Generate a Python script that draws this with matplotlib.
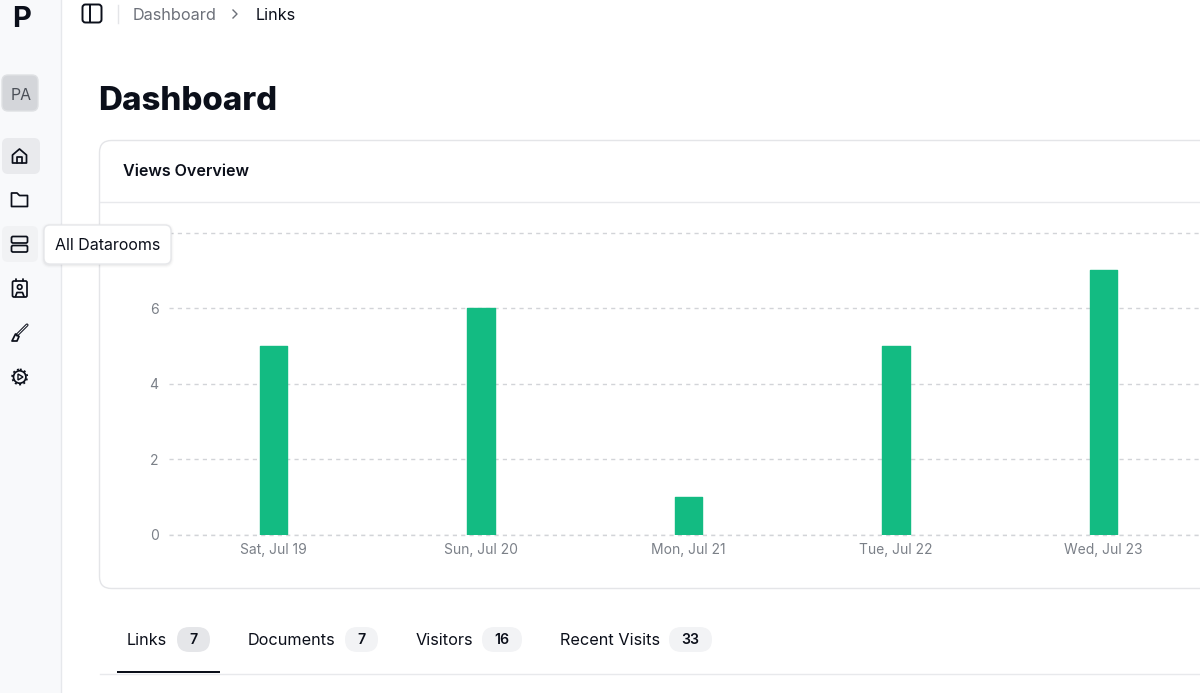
import matplotlib
matplotlib.use("Agg")
import matplotlib.pyplot as plt
from matplotlib.patches import FancyBboxPatch, Rectangle, Circle, Polygon
from matplotlib.lines import Line2D

plt.rcParams['font.family'] = ['Inter', 'DejaVu Sans']

days = ["Sat, Jul 19", "Sun, Jul 20", "Mon, Jul 21", "Tue, Jul 22", "Wed, Jul 23"]
views = [5, 6, 1, 5, 7]
yticks = [0, 2, 4, 6]
tab_names = ["Links", "Documents", "Visitors", "Recent Visits"]
tab_counts = ["7", "7", "16", "33"]

W, H = 1200, 693
INK = "#0b0f1a"
GREY = "#7b8088"
fig = plt.figure(figsize=(12, 6.93), dpi=100, facecolor="white")


def overlay(z):
    a = fig.add_axes([0, 0, 1, 1], zorder=z)
    a.set_xlim(0, W)
    a.set_ylim(H, 0)
    a.set_autoscale_on(False)
    a.axis("off")
    a.patch.set_alpha(0)
    return a


def rbox(a, x, y, w, h, r, fc="none", ec="none", lw=1.0, z=2):
    a.add_patch(FancyBboxPatch((x + r, y + r), w - 2 * r, h - 2 * r,
                               boxstyle=f"round,pad={r},rounding_size={r}",
                               fc=fc, ec=ec, lw=lw, zorder=z))


ui = overlay(0)
# sidebar
ui.add_patch(Rectangle((0, 0), 61, H, fc="#f8f9fb", ec="none"))
ui.add_line(Line2D([61, 61], [0, H], color="#e6e8ec", lw=1))
ui.text(21.5, 19.5, "P", fontsize=21, fontweight="bold", color=INK, ha="center", va="center")
rbox(ui, 2, 75, 36, 36, 6, fc="#d4d6da", ec="#dfe1e4")
ui.text(21, 95, "PA", fontsize=11.4, color="#4b5058", ha="center", va="center")
rbox(ui, 2, 138, 38, 36, 6, fc="#e9eaed")
rbox(ui, 2, 226, 36, 36, 6, fc="#f1f2f4")

ICON = dict(color=INK, lw=1.25, solid_capstyle="round", solid_joinstyle="round", zorder=4)
POLY = dict(closed=True, fc="none", ec=INK, lw=1.25, joinstyle="round", zorder=4)
# home
ui.add_patch(Polygon([(12.5, 155), (19.5, 149), (26.5, 155), (26.5, 163), (12.5, 163)], **POLY))
ui.plot([17, 17, 22, 22], [163, 157, 157, 163], **ICON)
# folder
ui.add_patch(Polygon([(11.5, 193), (17, 193), (19.5, 195.5), (27.5, 195.5), (27.5, 206.5), (11.5, 206.5)], **POLY))
# servers
rbox(ui, 11.5, 236.5, 16, 6.5, 1.5, ec=INK, lw=1.25, z=4)
rbox(ui, 11.5, 245.5, 16, 6.5, 1.5, ec=INK, lw=1.25, z=4)
ui.plot([14.5, 15], [239.7, 239.7], **ICON)
ui.plot([14.5, 15], [248.7, 248.7], **ICON)
# contact
rbox(ui, 12.5, 281, 14.5, 16, 1.5, ec=INK, lw=1.25, z=4)
ui.add_patch(Circle((19.7, 287), 2.3, fc="none", ec=INK, lw=1.2, zorder=4))
ui.plot([15.5, 17, 22.5, 24], [296.5, 292.5, 292.5, 296.5], **ICON)
ui.plot([16, 16], [279, 281], **ICON)
ui.plot([23, 23], [279, 281], **ICON)
# brush
ui.plot([27, 19, 17], [325, 333, 335], color=INK, lw=2.2, solid_capstyle="round", zorder=4)
ui.plot([27, 19, 17], [325, 333, 335], color="#f8f9fb", lw=0.7, solid_capstyle="round", zorder=4)
ui.add_patch(Polygon([(12, 341), (15.5, 334), (19, 336.5), (17, 341)], **POLY))
# gear
ui.add_patch(Circle((19.7, 377), 6.2, fc="none", ec=INK, lw=1.25, zorder=4))
ui.add_patch(Circle((19.7, 377), 7.6, fc="none", ec=INK, lw=1.2, ls=(0, (1.2, 1.5)), zorder=4))
ui.add_patch(Polygon([(18, 374), (23, 377), (18, 380)], closed=True, fc="none", ec=INK, lw=1, zorder=4))

# top bar
rbox(ui, 82.5, 4.5, 19, 18, 3, ec=INK, lw=1.4)
ui.add_line(Line2D([90, 90], [5, 22], color=INK, lw=1.4))
ui.add_line(Line2D([118, 118], [5, 23], color="#e4e5e8", lw=1))
ui.text(132.5, 15.5, "Dashboard", fontsize=11.7, color="#6c7079", va="center")
ui.plot([233, 237, 233], [10, 14, 18], color="#6c7079", lw=1)
ui.text(256, 15.5, "Links", fontsize=11.7, color=INK, va="center")
ui.text(98.5, 101, "Dashboard", fontsize=23.8, fontweight="heavy", color=INK, va="center")

# card
rbox(ui, 99.5, 140.5, 1200, 448, 12, fc="white", ec="#e4e5e8", lw=1)
ui.add_line(Line2D([100, W], [202, 202], color="#e8e9ec", lw=1, zorder=3))
ui.text(123, 171.5, "Views Overview", fontsize=11.6, fontweight="semibold", color=INK, va="center", zorder=4)

# tabs
tab_x = [127, 248, 416, 560]
pill_x = [177, 345, 482, 669]
pill_w = [33, 33, 40, 43]
for i, (n, c) in enumerate(zip(tab_names, tab_counts)):
    ui.text(tab_x[i], 640.5, n, fontsize=11.7, color=INK, va="center")
    rbox(ui, pill_x[i], 627, pill_w[i], 25, 12.5, fc="#e5e6e9" if i == 0 else "#f2f3f5")
    ui.text(pill_x[i] + pill_w[i] / 2, 640, c, fontsize=10.2, fontweight="semibold", color=INK,
            ha="center", va="center", zorder=4)
ui.add_line(Line2D([100, W], [673.5, 673.5], color="#e8e9ec", lw=1))
ui.add_patch(Rectangle((117, 671), 103, 2.2, fc=INK, ec="none", zorder=3))

# chart
ax = fig.add_axes([169 / W, 1 - 535 / H, (W - 169) / W, (535 - 232.5) / H], zorder=1)
ax.patch.set_alpha(0)
pos = list(range(len(days)))
ax.bar(pos, views, width=0.132, color="#13bb82", edgecolor="#13bb82", linewidth=1.0,
       joinstyle="round", zorder=3)
ax.set_xlim(-0.503, 4.465)
ax.set_ylim(0, 8)
ax.set_xticks(pos, days)
ax.set_yticks(yticks)
ax.tick_params(length=0, labelsize=10, labelcolor=GREY)
ax.tick_params(axis="x", pad=5.5)
ax.tick_params(axis="y", pad=7.5)
for s in ax.spines.values():
    s.set_visible(False)
ax.set_axisbelow(True)
ax.grid(axis="y", color="#d2d4d8", lw=1, ls=(0, (3, 3)))
ax.axhline(0, color="#d2d4d8", lw=1, ls=(0, (3, 3)), clip_on=False, zorder=1)
ax.axhline(8, color="#d2d4d8", lw=1, ls=(0, (3, 3)), clip_on=False, zorder=1)

# tooltip on top
tip = overlay(5)
for off, al in ((3, 0.012), (2, 0.02), (1, 0.03)):
    rbox(tip, 44 - off, 225 - off + 1, 127 + 2 * off, 39 + 2 * off, 6 + off, fc="black")
    tip.patches[-1].set_alpha(al)
rbox(tip, 44, 225, 127, 39, 6, fc="white", ec="#e6e7ea", lw=1, z=3)
tip.text(107.5, 245, "All Datarooms", fontsize=11.5, color=INK, ha="center", va="center", zorder=4)

fig.savefig("out.png", dpi=100)
